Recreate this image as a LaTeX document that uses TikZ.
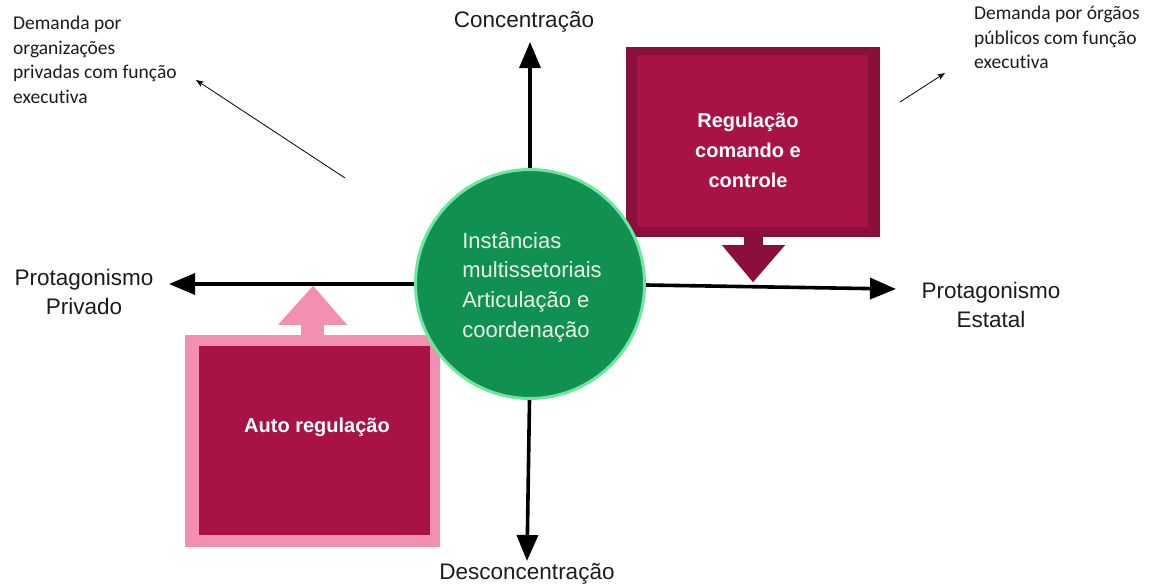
\documentclass[tikz,border=0pt]{standalone}
\usepackage{fontspec}
\setmainfont{Liberation Sans}
\newfontfamily\annfont[Ligatures=CommonOff]{Carlito}
\usetikzlibrary{arrows.meta,calc}
\definecolor{cgreen}{RGB}{16,145,82}
\definecolor{cgreenb}{RGB}{110,230,160}
\definecolor{cmaroon}{RGB}{138,15,58}
\definecolor{ccrimson}{RGB}{169,18,68}
\definecolor{cpink}{RGB}{243,143,176}
\definecolor{ctext}{RGB}{28,28,28}
\definecolor{clight}{RGB}{232,245,235}
\begin{document}
\begin{tikzpicture}[x=1pt,y=-1pt,
  axis/.style={line width=3.6pt, draw=black, -{Triangle[length=26pt,width=21pt]}},
  annarrow/.style={line width=0.8pt, draw=black, -{Stealth[length=8pt,width=6pt]}},
  lbl/.style={text=ctext, font=\fontsize{22.5}{29.5}\selectfont, align=center, inner sep=0pt},
  ann/.style={text=ctext, font=\annfont\fontsize{19.5}{24.5}\selectfont, align=left, inner sep=0pt, anchor=north west},
  boxtext/.style={text=white, font=\bfseries\fontsize{20}{30}\selectfont, align=center, inner sep=0pt},
  plainbox/.style={draw=none, inner sep=0pt}]
\useasboundingbox (0,0) rectangle (1149,584);

% regulation box (state)
\node[plainbox, fill=cmaroon, minimum width=254pt, minimum height=190pt] (regout) at (753,142) {};
\node[plainbox, fill=ccrimson, minimum width=231pt, minimum height=172pt] (regin) at (752.5,141) {};
\node[boxtext] (regtext) at (748,150) {Regulação\\comando e\\controle};
\fill[cmaroon] ($(regout.south)+(-9.5,-1)$) rectangle ($(regout.south)+(9.5,9)$);
\fill[cmaroon] ($(regout.south)+(-31,8)$) -- ($(regout.south)+(32,8)$) -- ($(regout.south)+(0,45)$) -- cycle;

% self regulation box (private)
\node[plainbox, fill=cpink, minimum width=255pt, minimum height=212pt] (autout) at (312.5,441) {};
\node[plainbox, fill=ccrimson, minimum width=231pt, minimum height=189pt] (autin) at (314.5,440.5) {};
\node[boxtext] (auttext) at (317,427) {Auto regulação};
\fill[cpink] ($(autout.north)+(-12,1)$) rectangle ($(autout.north)+(11.5,-11)$);
\fill[cpink] ($(autout.north)+(-34.5,-10)$) -- ($(autout.north)+(34.5,-10)$) -- ($(autout.north)+(0.5,-49)$) -- cycle;

% centre circle
\node[circle, fill=cgreen, draw=cgreenb, line width=3pt, minimum size=229pt, inner sep=0pt] (c) at (530,284) {};
\node[text=clight, font=\fontsize{22}{29.6}\selectfont, align=left, inner sep=0pt] (ctext) at (532,287)
  {Instâncias\\multissetoriais\\Articulação e\\coordenação};

% axis end points
\coordinate (top) at (530,42);
\coordinate (bot) at (527,561);
\coordinate (left) at (169,284);
\coordinate (right) at (896,289);

\draw[axis] (c.north) -- (top);
\draw[axis] (c.south) ++(-0.5,0) -- (bot);
\draw[axis] (c.west) -- (left);
\draw[axis] (c.east) ++(0,1) -- (right);

% axis labels
\node[lbl] (lconc) at (524,22) {Concentração};
\node[lbl] (ldesc) at (527,574) {Desconcentração};
\node[lbl] (lpriv) at (84,292) {Protagonismo\\Privado};
\node[lbl] (lest) at (991,305) {Protagonismo\\Estatal};

% annotations
\node[ann] (apriv) at (13,16) {Demanda por\\organizações\\privadas com função\\executiva};
\node[ann] (aest) at (974,6) {Demanda por órgãos\\públicos com função\\executiva};
\coordinate (aprivs) at (345,178);
\coordinate (aprive) at (196,80);
\coordinate (aests) at (900,102);
\coordinate (aeste) at (945,73);
\draw[annarrow] (aprivs) -- (aprive);
\draw[annarrow] (aests) -- (aeste);
\end{tikzpicture}
\end{document}
